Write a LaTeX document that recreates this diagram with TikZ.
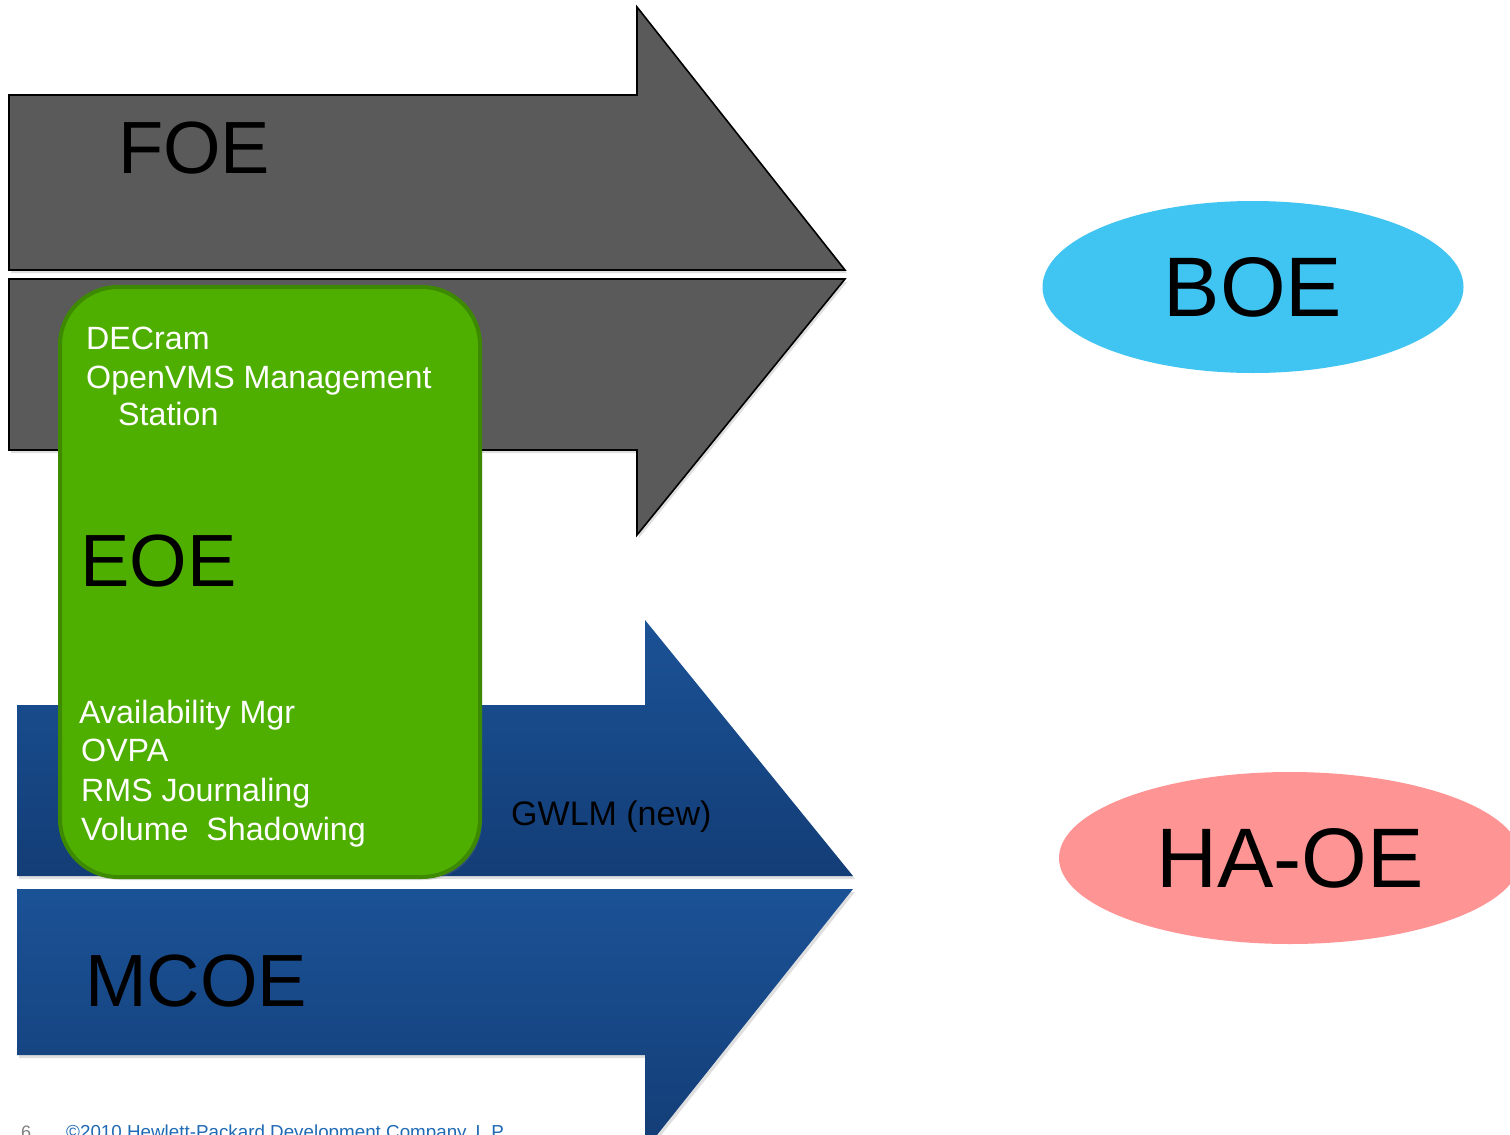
\documentclass[tikz,border=0pt]{standalone}
\usepackage{fontspec}
\setmainfont{Liberation Sans}
\usetikzlibrary{shapes.geometric,shadows}
\definecolor{arrgray}{HTML}{5A5A5A}
\definecolor{bluetop}{HTML}{1B5296}
\definecolor{bluebot}{HTML}{133D76}
\definecolor{eoegreen}{HTML}{4FAF00}
\definecolor{eoeborder}{HTML}{3D8A00}
\definecolor{boeblue}{HTML}{40C4F2}
\definecolor{haoepink}{HTML}{FF9494}
\definecolor{hpblue}{HTML}{1F6AB4}
\definecolor{pagegray}{HTML}{808080}
\tikzset{
  grayarrow/.style={fill=arrgray, draw=black, line width=1.6pt, line join=miter,
    drop shadow={opacity=0.25, shadow xshift=2pt, shadow yshift=-3pt}},
  bluearrow/.style={top color=bluetop, bottom color=bluebot, draw=none,
    drop shadow={opacity=0.25, shadow xshift=2pt, shadow yshift=-3pt}},
  bigtxt/.style={font=\fontsize{74}{78}\selectfont, text=black, inner sep=0pt, anchor=base west},
  ovaltxt/.style={font=\fontsize{84.5}{88}\selectfont, text=black, ellipse, inner sep=0pt},
  whitetxt/.style={font=\fontsize{32.2}{34}\selectfont, text=white, inner sep=0pt, anchor=base west},
}
\begin{document}
\begin{tikzpicture}[x=1pt,y=-1pt]
\useasboundingbox (0,0) rectangle (1510,1135);
\clip (0,0) rectangle (1510,1135);
\fill[white] (0,0) rectangle (1510,1135);

% gray arrows (FOE)
\path[grayarrow] (9,95) -- (637,95) -- (637,7) -- (845,270) -- (9,270) -- cycle;
\path[grayarrow] (9,279) -- (845,279) -- (637,535) -- (637,450) -- (9,450) -- cycle;

% blue arrows (MCOE)
\path[bluearrow] (17,705) -- (645,705) -- (645,620) -- (853,876) -- (17,876) -- cycle;
\path[bluearrow] (17,889) -- (853,889) -- (645,1150) -- (645,1055) -- (17,1055) -- cycle;

% EOE rounded box
\path[fill=eoegreen, draw=eoeborder, line width=4pt, rounded corners=58pt,
  drop shadow={opacity=0.25, shadow xshift=2pt, shadow yshift=-3pt}]
  (60,287) rectangle (480,877);

% labels
\node[bigtxt] (foe) at (118,173) {FOE};
\node[bigtxt] (eoe) at (80,586) {EOE};
\node[bigtxt] (mcoe) at (85,1006) {MCOE};

\node[whitetxt] (decram) at (86,349) {DECram};
\node[whitetxt] (openvms) at (86,388) {OpenVMS Management};
\node[whitetxt] (station) at (118,425) {Station};
\node[whitetxt] (avail) at (79,723) {Availability Mgr};
\node[whitetxt] (ovpa) at (81,761) {OVPA};
\node[whitetxt] (rms) at (81,801) {RMS Journaling};
\node[whitetxt] (vol) at (81,840) {Volume\ \ Shadowing};
\node[whitetxt, text=black, font=\fontsize{34}{36}\selectfont] (gwlm) at (511,825) {GWLM (new)};

% ovals
\node[ovaltxt, fill=boeblue, minimum width=421pt, minimum height=172pt] (boe) at (1253,287) {BOE};
\node[ovaltxt, fill=haoepink, minimum width=462pt, minimum height=172pt] (haoe) at (1290,858) {HA-OE};

% footer
\node[font=\fontsize{18}{20}\selectfont, text=pagegray, inner sep=0pt, anchor=base west] (pageno) at (21,1138) {6};
\node[font=\fontsize{18.8}{20}\selectfont, text=hpblue, inner sep=0pt, anchor=base west] (copy) at (66,1138) {©2010 Hewlett-Packard Development Company, L.P.};
\end{tikzpicture}
\end{document}
